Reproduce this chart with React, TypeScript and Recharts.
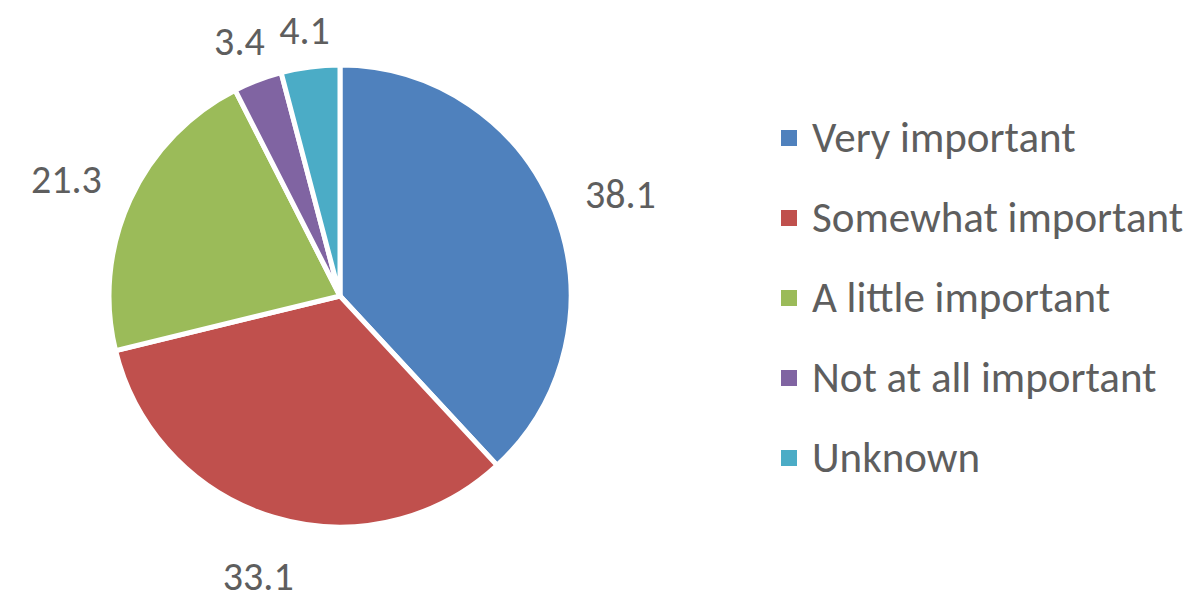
import React from 'react';
import { PieChart, Pie, Cell, Legend } from 'recharts';

const categories = ['Very important', 'Somewhat important', 'A little important', 'Not at all important', 'Unknown'];
const values = [38.1, 33.1, 21.3, 3.4, 4.1];
const colors = ['#4F81BD', '#C0504D', '#9BBB59', '#8064A2', '#4BACC6'];

const data = categories.map((name, i) => ({ name, value: values[i] }));

const FONT = 'Carlito, Calibri, Lato, sans-serif';
const TEXT = '#5e5e5e';
const RAD = Math.PI / 180;
const LABEL_SIZE = 40;

const renderLabel = (props: any) => {
  const { cx, cy, midAngle, outerRadius, value } = props;
  const txt = value.toFixed(1);
  let w = 0;
  for (const ch of txt) w += ch === '.' ? 0.25 : 0.58;
  const halfW = (w * LABEL_SIZE) / 2;
  const halfH = 14;
  const dx = Math.cos(-midAngle * RAD);
  const dy = Math.sin(-midAngle * RAD);
  const support = Math.abs(dx) * halfW + Math.abs(dy) * halfH;
  const r = outerRadius + 28 + support;
  const x = cx + r * dx;
  const y = cy + r * dy + 8;
  return (
    <text x={x} y={y} dy="0.36em" fill={TEXT} fontSize={LABEL_SIZE} fontFamily={FONT} textAnchor="middle">
      {txt}
    </text>
  );
};

const renderLegend = () => (
  <div style={{ fontFamily: FONT }}>
    {categories.map((c, i) => (
      <div key={c} style={{ height: 80, display: 'flex', alignItems: 'center' }}>
        <div style={{ width: 16, height: 16, background: colors[i], marginRight: 15, flexShrink: 0 }} />
        <span style={{ color: TEXT, fontSize: 43, whiteSpace: 'nowrap', lineHeight: '80px' }}>{c}</span>
      </div>
    ))}
  </div>
);

export default function App() {
  return (
    <div style={{ position: 'absolute', left: 0, top: 0, width: 1200, height: 605, background: '#fff' }}>
      <PieChart width={1200} height={605} margin={{ top: 0, right: 0, bottom: 0, left: 0 }}>
        <Pie
          data={data}
          dataKey="value"
          nameKey="name"
          cx={340}
          cy={296}
          outerRadius={231}
          startAngle={90}
          endAngle={-270}
          stroke="#ffffff"
          strokeWidth={5}
          label={renderLabel}
          labelLine={false}
          isAnimationActive={false}
        >
          {data.map((d, i) => (
            <Cell key={d.name} fill={colors[i]} />
          ))}
        </Pie>
        <Legend
          content={renderLegend}
          wrapperStyle={{ position: 'absolute', left: 781, top: 98, width: 419 }}
        />
      </PieChart>
    </div>
  );
}
